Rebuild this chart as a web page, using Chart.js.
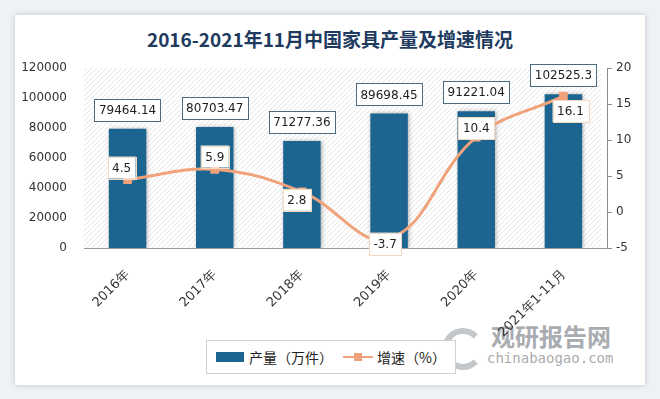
<!DOCTYPE html>
<html>
<head>
<meta charset="utf-8">
<script src="https://cdn.jsdelivr.net/npm/chart.js@4"></script>
<style>
    body { margin: 0; background: #eef1f5; width: 660px; height: 399px; overflow: hidden; position: relative; font-family: "DejaVu Sans", sans-serif; }
    #card { position: absolute; left: 15px; top: 15px; width: 630px; height: 370px; background: #fff; box-shadow: 0 0 6px rgba(0,0,0,0.18); }
    #title { position: absolute; left: 0; top: 25px; width: 660px; text-align: center; font: bold 19px "Noto Sans CJK SC", sans-serif; color: #1e3a5e; }
    #wrap { position: absolute; left: 0; top: 0; width: 660px; height: 399px; }
    #legend { position: absolute; left: 206px; top: 340px; width: 248px; height: 32px; border: 1px solid #d0d0d0; background: #fff;
              display: flex; align-items: center; justify-content: center; font: 14px "Noto Sans CJK SC", sans-serif; color: #222; }
    .sw-bar { width: 28px; height: 10px; background: #1b6590; margin-right: 5px; }
    .sw-line { position: relative; width: 30px; height: 10px; margin: 0 4px 0 10px; }
    .sw-line:before { content: ""; position: absolute; left: 0; right: 0; top: 4px; height: 2px; background: #f0a27b; }
    .sw-line:after { content: ""; position: absolute; left: 11px; top: 1px; width: 8px; height: 8px; background: #f0a27b; }
    #wm1 { position: absolute; left: 491px; top: 318px; font: bold 24px "Noto Sans CJK SC", sans-serif; color: #a9acb0; line-height: 36px; }
    #wm2 { position: absolute; left: 487px; top: 350px; font: 14px "DejaVu Sans Mono", monospace; color: #a9acb0; }
    #logo { position: absolute; left: 442px; top: 328px; width: 30px; height: 30px; border-radius: 50%; border: 6px solid #c4c7ca; border-right-color: transparent; }
</style>
</head>
<body>
<div id="card"></div>
<div id="title">2016-2021年11月中国家具产量及增速情况</div>
<div id="logo"></div>
<div id="wm1">观研报告网</div>
<div id="wm2">chinabaogao.com</div>
<div id="wrap"><canvas id="chart" width="660" height="399"></canvas></div>
<div id="legend">
    <div class="sw-bar"></div><span>产量（万件）</span>
    <div class="sw-line"></div><span>增速（%）</span>
</div>
<script>
// --- datos ---
const categories = ["2016年", "2017年", "2018年", "2019年", "2020年", "2021年1-11月"];
const output = [79464.14, 80703.47, 71277.36, 89698.45, 91221.04, 102525.3];
const growth = [4.5, 5.9, 2.8, -3.7, 10.4, 16.1];
const leftTicks = [0, 20000, 40000, 60000, 80000, 100000, 120000];
const rightTicks = [-5, 0, 5, 10, 15, 20];

const outputLabels = ["79464.14", "80703.47", "71277.36", "89698.45", "91221.04", "102525.3"];
const growthLabels = ["4.5", "5.9", "2.8", "-3.7", "10.4", "16.1"];
// desplazamiento de las etiquetas de la linea (dx, dy)
const growthOffsets = [[-6, -12], [0, -13], [-5, 8], [-4, 5], [0, -9], [7, 15]];

const BLUE = "#1b6590";
const ORANGE = "#f0a27b";

// fondo rayado del area de trazado
const hatchPlugin = {
    id: "hatch",
    beforeDraw(chart) {
        const { ctx, chartArea: a } = chart;
        const p = document.createElement("canvas");
        p.width = 5; p.height = 5;
        const pc = p.getContext("2d");
        pc.strokeStyle = "#e4e4e4";
        pc.lineWidth = 1;
        pc.beginPath();
        pc.moveTo(0, 5); pc.lineTo(5, 0);
        pc.moveTo(-1, 1); pc.lineTo(1, -1);
        pc.moveTo(4, 6); pc.lineTo(6, 4);
        pc.stroke();
        ctx.save();
        ctx.fillStyle = ctx.createPattern(p, "repeat");
        ctx.fillRect(a.left, a.top, a.right - a.left - 6, a.bottom - a.top);
        ctx.restore();
    }
};

// sombra de las barras
const shadowPlugin = {
    id: "barShadow",
    beforeDatasetDraw(chart, args) {
        if (args.meta.type !== "bar") return;
        const ctx = chart.ctx;
        ctx.save();
        ctx.shadowColor = "rgba(0,0,0,0.3)";
        ctx.shadowBlur = 4;
        ctx.shadowOffsetX = 1;
        ctx.shadowOffsetY = 0;
    },
    afterDatasetDraw(chart, args) {
        if (args.meta.type !== "bar") return;
        chart.ctx.restore();
    }
};

function drawBox(ctx, text, cx, cy, border) {
    ctx.font = "12px 'DejaVu Sans'";
    const w = ctx.measureText(text).width + 9;
    const h = 22;
    ctx.fillStyle = "#fff";
    ctx.fillRect(cx - w / 2, cy - h / 2, w, h);
    ctx.strokeStyle = border;
    ctx.lineWidth = 1;
    ctx.strokeRect(Math.round(cx - w / 2) + 0.5, Math.round(cy - h / 2) + 0.5, Math.round(w), h);
    ctx.fillStyle = "#222";
    ctx.textAlign = "center";
    ctx.textBaseline = "middle";
    ctx.fillText(text, cx, cy + 1);
}

const labelPlugin = {
    id: "boxLabels",
    afterDatasetsDraw(chart) {
        const ctx = chart.ctx;
        ctx.save();
        chart.getDatasetMeta(0).data.forEach((bar, i) => {
            drawBox(ctx, outputLabels[i], bar.x, bar.y - 19, "#4d6b80");
        });
        chart.getDatasetMeta(1).data.forEach((pt, i) => {
            const [dx, dy] = growthOffsets[i];
            drawBox(ctx, growthLabels[i], pt.x + dx, pt.y + dy, "#f3d9bf");
        });
        ctx.restore();
    }
};

const chart = new Chart(document.getElementById("chart"), {
    data: {
        labels: categories,
        datasets: [
            {
                type: "bar",
                label: "产量（万件）",
                data: output,
                backgroundColor: BLUE,
                yAxisID: "y",
                order: 1,
                barPercentage: 0.43,
                categoryPercentage: 1
            },
            {
                type: "line",
                label: "增速（%）",
                data: growth,
                borderColor: ORANGE,
                backgroundColor: ORANGE,
                borderWidth: 3,
                tension: 0.4,
                pointStyle: "rect",
                pointRadius: 4,
                yAxisID: "y1",
                order: 0
            }
        ]
    },
    options: {
        responsive: false,
        animation: false,
        layout: { padding: { top: 68, left: 9, right: 13, bottom: 21 } },
        plugins: { legend: { display: false }, tooltip: { enabled: false } },
        scales: {
            x: {
                grid: { display: false },
                border: { color: "#9a9a9a" },
                ticks: { color: "#333", font: { family: "DejaVu Sans", size: 13 }, maxRotation: 45, minRotation: 45, padding: 11 },
                afterFit(s) { s.height = 130; }
            },
            y: {
                position: "left",
                min: 0, max: 120000,
                grid: { display: false },
                border: { display: false },
                afterBuildTicks(s) { s.ticks = leftTicks.map(v => ({ value: v })); },
                ticks: { color: "#333", padding: 9, font: { family: "DejaVu Sans", size: 12 }, callback: v => String(v) },
                afterFit(s) { s.width = 75; }
            },
            y1: {
                position: "right",
                min: -5, max: 20,
                grid: { drawOnChartArea: false, drawTicks: true, tickLength: 5, color: "#8a8a8a" },
                border: { display: true, color: "#8a8a8a" },
                afterBuildTicks(s) { s.ticks = rightTicks.map(v => ({ value: v })); },
                ticks: { color: "#333", padding: 4, font: { family: "DejaVu Sans", size: 12 } },
                afterFit(s) { s.width = 40; }
            }
        }
    },
    plugins: [hatchPlugin, shadowPlugin, labelPlugin]
});
</script>
</body>
</html>
